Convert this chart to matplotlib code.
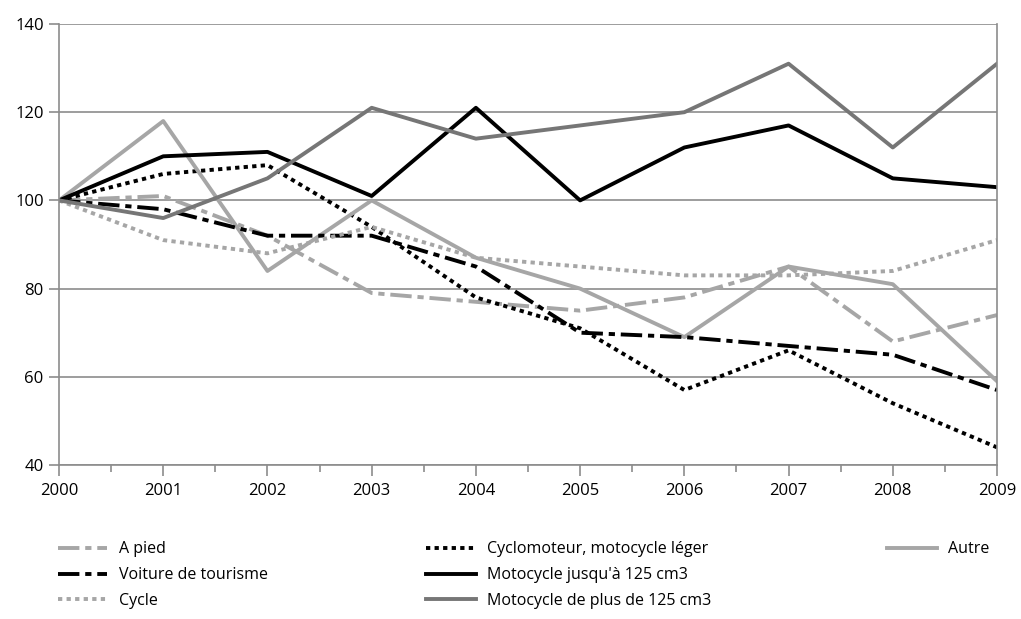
import matplotlib.pyplot as plt
from matplotlib.ticker import MultipleLocator

plt.rcParams['font.family'] = ['Open Sans', 'DejaVu Sans']

years = [2000, 2001, 2002, 2003, 2004, 2005, 2006, 2007, 2008, 2009]

a_pied = [100, 101, 92, 79, 77, 75, 78, 85, 68, 74]
cyclomoteur = [100, 106, 108, 94, 78, 71, 57, 66, 54, 44]
autre = [100, 118, 84, 100, 87, 80, 69, 85, 81, 59]
voiture = [100, 98, 92, 92, 85, 70, 69, 67, 65, 57]
moto_125 = [100, 110, 111, 101, 121, 100, 112, 117, 105, 103]
cycle = [100, 91, 88, 94, 87, 85, 83, 83, 84, 91]
moto_plus = [100, 96, 105, 121, 114, 117, 120, 131, 112, 131]

light = '#a6a6a6'
dark = '#767676'
lw = 2.8
dashdot = (5.5, 1.5, 1.6, 1.5)
dots = (1.1, 1.1)

fig = plt.figure(figsize=(10.21, 6.19), dpi=100)
ax = fig.add_axes([0.0578, 0.2488, 0.9187, 0.7124])

h_apied, = ax.plot(years, a_pied, color=light, lw=lw, dashes=dashdot,
                   dash_capstyle='butt', label='A pied')
h_cyclo, = ax.plot(years, cyclomoteur, color='black', lw=lw, dashes=dots,
                   dash_capstyle='butt', label='Cyclomoteur, motocycle léger')
h_autre, = ax.plot(years, autre, color=light, lw=lw, label='Autre')
h_voit, = ax.plot(years, voiture, color='black', lw=lw, dashes=dashdot,
                  dash_capstyle='butt', label='Voiture de tourisme')
h_m125, = ax.plot(years, moto_125, color='black', lw=lw, label="Motocycle jusqu'à 125 cm3")
h_cycle, = ax.plot(years, cycle, color=light, lw=lw, dashes=dots,
                   dash_capstyle='butt', label='Cycle')
h_mplus, = ax.plot(years, moto_plus, color=dark, lw=lw, label='Motocycle de plus de 125 cm3')

ax.set_xlim(2000, 2009)
ax.set_ylim(40, 140)
ax.set_xticks(years)
ax.xaxis.set_minor_locator(MultipleLocator(0.5))
ax.set_yticks(range(40, 141, 20))
ax.yaxis.grid(True, color='#8c8c8c', lw=1.2)
ax.set_axisbelow(True)
for s in ['left', 'bottom', 'right']:
    ax.spines[s].set_color('#8c8c8c')
    ax.spines[s].set_linewidth(1.2)
ax.spines['top'].set_visible(False)
ax.tick_params(axis='both', which='both', color='#8c8c8c', width=1.2,
               labelsize=12, direction='out')
ax.tick_params(axis='x', which='major', length=8, pad=5)
ax.tick_params(axis='x', which='minor', length=5)
ax.tick_params(axis='y', length=7, pad=4)

leg_kw = dict(frameon=False, fontsize=11.5, loc='upper left', handlelength=3.1,
              handletextpad=0.7, labelspacing=0.62, borderaxespad=0)
fig.legend(handles=[h_apied, h_voit, h_cycle], bbox_to_anchor=(0.0505, 0.136), **leg_kw)
fig.legend(handles=[h_cyclo, h_m125, h_mplus], bbox_to_anchor=(0.411, 0.136), **leg_kw)
fig.legend(handles=[h_autre], bbox_to_anchor=(0.8625, 0.136), **leg_kw)

fig.savefig('out.png', dpi=100)
